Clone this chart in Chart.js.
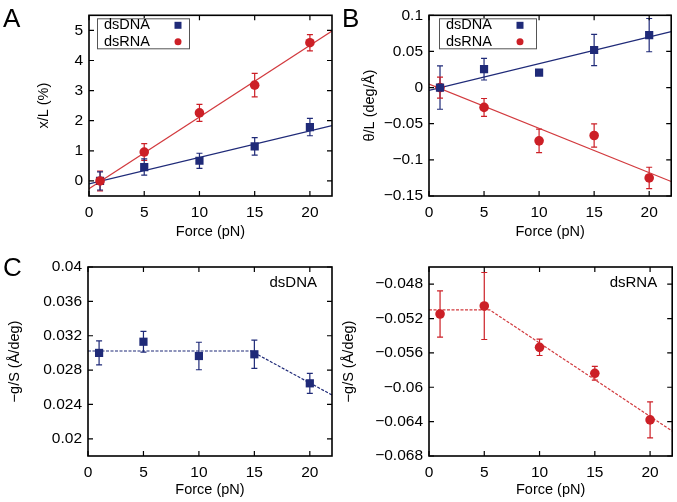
<!DOCTYPE html>
<html>
<head>
<meta charset="utf-8">
<script src="https://cdn.jsdelivr.net/npm/chart.js@4"></script>
<style>
	body { margin: 0; background: #fff; }
	#wrap { position: relative; width: 677px; height: 502px; overflow: hidden; font-family: "Liberation Sans", Arial, sans-serif; }
	canvas { position: absolute; }
	.letter { position: absolute; font-size: 26px; line-height: 26px; color: #000; }
</style>
</head>
<body>
<div id="wrap">
	<canvas id="cA" width="338" height="250" style="left:0;top:0"></canvas>
	<canvas id="cB" width="339" height="250" style="left:338px;top:0"></canvas>
	<canvas id="cC" width="338" height="252" style="left:0;top:250px"></canvas>
	<canvas id="cD" width="339" height="252" style="left:338px;top:250px"></canvas>
	<div class="letter" style="left:3px;top:5px">A</div>
	<div class="letter" style="left:342px;top:5px">B</div>
	<div class="letter" style="left:3px;top:254px">C</div>
</div>
<script>
// force values (pN) and x axis
const forceVals = [1, 5, 10, 15, 20];
const xTicks = [0, 5, 10, 15, 20];
const xTickLabels = ["0", "5", "10", "15", "20"];
const fitX = [0, 22];

// A: extension x/L (%)
const extDna = [0.0, 0.46, 0.67, 1.15, 1.79];
const extDnaErr = [0.3, 0.27, 0.25, 0.29, 0.29];
const extRna = [0.0, 0.96, 2.26, 3.18, 4.59];
const extRnaErr = [0.33, 0.28, 0.28, 0.39, 0.27];
const extDnaFit = [-0.1, 1.84];
const extRnaFit = [-0.26, 4.98];
const extTicks = [0, 1, 2, 3, 4, 5];
const extTickLabels = ["0", "1", "2", "3", "4", "5"];

// B: twist theta/L (deg/A)
const twDna = [0.0, 0.0255, 0.0206, 0.052, 0.0726];
const twDnaErr = [0.03, 0.015, 0.003, 0.0215, 0.023];
const twRna = [0.0, -0.0274, -0.0737, -0.0663, -0.125];
const twRnaErr = [0.0145, 0.0123, 0.0163, 0.016, 0.0148];
const twDnaFit = [-0.004, 0.0775];
const twRnaFit = [0.0048, -0.13];
const twTicks = [-0.15, -0.1, -0.05, 0, 0.05, 0.1];
const twTickLabels = ["\u22120.15", "\u22120.1", "\u22120.05", "0", "0.05", "0.1"];

// C: -g/S dsDNA
const gDna = [0.0300, 0.0313, 0.02964, 0.02984, 0.02646];
const gDnaErr = [0.0014, 0.0012, 0.0016, 0.00165, 0.00116];
const gDnaFitX = [0, 14.7, 22];
const gDnaFit = [0.03022, 0.03022, 0.0251];
const gDnaTicks = [0.02, 0.024, 0.028, 0.032, 0.036, 0.04];
const gDnaTickLabels = ["0.02", "0.024", "0.028", "0.032", "0.036", "0.04"];

// D: -g/S dsRNA
const gRna = [-0.05147, -0.05054, -0.05535, -0.05837, -0.0638];
const gRnaErr = [0.0027, 0.0039, 0.00095, 0.0008, 0.0021];
const gRnaFitX = [0, 5.5, 22];
const gRnaFit = [-0.0510, -0.0510, -0.0651];
const gRnaTicks = [-0.068, -0.064, -0.06, -0.056, -0.052, -0.048];
const gRnaTickLabels = ["\u22120.068", "\u22120.064", "\u22120.06", "\u22120.056", "\u22120.052", "\u22120.048"];

const navy = "#1f2a78";
const red = "#cc1f26";
const redLine = "#d23a3e";

Chart.defaults.font.family = "'Liberation Sans', Arial, sans-serif";
Chart.defaults.color = "#000";

const pts = (xs, ys) => xs.map((x, i) => ({ x: x, y: ys[i] }));

// error bars, frame with inward ticks, key box, corner tag
const gnuPlot = {
	id: "gnuPlot",
	beforeDatasetsDraw(chart) {
		const ctx = chart.ctx;
		const xs = chart.scales.x, ys = chart.scales.y;
		chart.data.datasets.forEach((ds) => {
			if (!ds.errors) return;
			ctx.save();
			ctx.strokeStyle = ds.borderColor;
			ctx.lineWidth = 1.2;
			ds.data.forEach((p, j) => {
				const x = xs.getPixelForValue(p.x);
				const y1 = ys.getPixelForValue(p.y + ds.errors[j]);
				const y2 = ys.getPixelForValue(p.y - ds.errors[j]);
				ctx.beginPath();
				ctx.moveTo(x, y1); ctx.lineTo(x, y2);
				ctx.moveTo(x - 3, y1); ctx.lineTo(x + 3, y1);
				ctx.moveTo(x - 3, y2); ctx.lineTo(x + 3, y2);
				ctx.stroke();
			});
			ctx.restore();
		});
	},
	afterDraw(chart, args, opts) {
		const ctx = chart.ctx;
		const a = chart.chartArea;
		const xs = chart.scales.x, ys = chart.scales.y;
		ctx.save();
		ctx.strokeStyle = "#000";
		ctx.lineWidth = 1.2;
		ctx.beginPath();
		xs.ticks.forEach((t) => {
			const x = xs.getPixelForValue(t.value);
			ctx.moveTo(x, a.bottom); ctx.lineTo(x, a.bottom - 5);
			ctx.moveTo(x, a.top); ctx.lineTo(x, a.top + 5);
		});
		ys.ticks.forEach((t) => {
			const y = ys.getPixelForValue(t.value);
			ctx.moveTo(a.left, y); ctx.lineTo(a.left + 5, y);
			ctx.moveTo(a.right, y); ctx.lineTo(a.right - 5, y);
		});
		ctx.stroke();
		ctx.lineWidth = 1.6;
		ctx.strokeRect(a.left, a.top, a.right - a.left, a.bottom - a.top);

		if (opts.key) {
			const k = opts.key;
			const bx = a.left + k.dx, by = a.top + k.dy;
			ctx.fillStyle = "#fff";
			ctx.fillRect(bx, by, k.w, k.h);
			ctx.strokeStyle = "#555";
			ctx.lineWidth = 1;
			ctx.strokeRect(bx + 0.5, by + 0.5, k.w, k.h);
			ctx.font = "14.5px 'Liberation Sans', Arial, sans-serif";
			ctx.textBaseline = "middle";
			ctx.textAlign = "left";
			k.order.forEach((label, row) => {
				const ds = chart.data.datasets.find((d) => d.label === label);
				const cy = by + 7 + row * 16.5;
				ctx.fillStyle = "#000";
				ctx.fillText(ds.label, bx + 7, cy);
				ctx.fillStyle = ds.backgroundColor;
				ctx.beginPath();
				if (ds.pointStyle === "rect") {
					ctx.rect(bx + k.mx - 3.5, cy - 3.5, 7, 7);
				} else {
					ctx.arc(bx + k.mx, cy, 3.5, 0, Math.PI * 2);
				}
				ctx.fill();
			});
		}
		if (opts.tag) {
			ctx.font = "15px 'Liberation Sans', Arial, sans-serif";
			ctx.fillStyle = "#000";
			ctx.textAlign = "right";
			ctx.textBaseline = "middle";
			ctx.fillText(opts.tag, a.right - 15, a.top + 16);
		}
		ctx.restore();
	},
};

function makePanel(id, p) {
	const ctx = document.getElementById(id).getContext("2d");
	return new Chart(ctx, {
		type: "scatter",
		data: { datasets: p.datasets },
		plugins: [gnuPlot],
		options: {
			responsive: false,
			animation: false,
			layout: { padding: { top: p.top, right: p.right, left: 0, bottom: 0 } },
			plugins: {
				legend: { display: false },
				tooltip: { enabled: false },
				gnuPlot: { key: p.key, tag: p.tag },
			},
			scales: {
				x: {
					type: "linear",
					min: 0,
					max: 22,
					afterBuildTicks: (axis) => { axis.ticks = xTicks.map((v) => ({ value: v })); },
					afterFit: (axis) => { axis.height = p.xHeight; },
					grid: { display: false, drawTicks: false },
					border: { display: false },
					ticks: {
						padding: 7,
						font: { size: 15.5 },
						maxRotation: 0,
						callback: (v, i) => xTickLabels[i],
					},
					title: {
						display: true,
						text: "Force (pN)",
						font: { size: 14.5 },
						padding: { top: 0, bottom: p.xTitlePad },
					},
				},
				y: {
					type: "linear",
					min: p.yMin,
					max: p.yMax,
					afterBuildTicks: (axis) => { axis.ticks = p.yTicks.map((v) => ({ value: v })); },
					afterFit: (axis) => { axis.width = p.yWidth; },
					grid: { display: false, drawTicks: false },
					border: { display: false },
					ticks: {
						padding: 6,
						font: { size: 15.5 },
						callback: (v, i) => p.yTickLabels[i],
					},
					title: {
						display: true,
						text: p.yTitle,
						font: { size: 14.5 },
						padding: { top: p.yTitlePad, bottom: 0 },
					},
				},
			},
		},
	});
}

function pointSet(label, xs, ys, errs, color, style, r) {
	return {
		label: label,
		data: pts(xs, ys),
		errors: errs,
		borderColor: color,
		backgroundColor: color,
		pointStyle: style,
		pointRadius: r,
		pointBorderColor: color,
		pointBorderWidth: 0,
		showLine: false,
	};
}

function fitSet(xs, ys, color, dash) {
	return {
		data: pts(xs, ys),
		borderColor: color,
		borderWidth: 1.2,
		borderDash: dash,
		pointRadius: 0,
		showLine: true,
		fill: false,
	};
}

makePanel("cA", {
	top: 7, right: 6, yWidth: 89, xHeight: 54,
	yMin: -0.5, yMax: 5.5, yTicks: extTicks, yTickLabels: extTickLabels,
	yTitle: "x/L (%)", yTitlePad: 35, xTitlePad: 9,
	key: { dx: 8, dy: 3, w: 92, h: 30, mx: 81, order: ["dsDNA", "dsRNA"] },
	datasets: [
		pointSet("dsRNA", forceVals, extRna, extRnaErr, red, "circle", 4.8),
		pointSet("dsDNA", forceVals, extDna, extDnaErr, navy, "rect", 5.8),
		fitSet(fitX, extRnaFit, redLine, []),
		fitSet(fitX, extDnaFit, navy, []),
	],
});

makePanel("cB", {
	top: 7, right: 3, yWidth: 91, xHeight: 54,
	yMin: -0.15, yMax: 0.1, yTicks: twTicks, yTickLabels: twTickLabels,
	yTitle: "\u03b8/L (deg/\u00c5)", yTitlePad: 23, xTitlePad: 9,
	key: { dx: 10, dy: 3, w: 97, h: 30, mx: 81, order: ["dsDNA", "dsRNA"] },
	datasets: [
		pointSet("dsDNA", forceVals, twDna, twDnaErr, navy, "rect", 5.8),
		pointSet("dsRNA", forceVals, twRna, twRnaErr, red, "circle", 4.8),
		fitSet(fitX, twDnaFit, navy, []),
		fitSet(fitX, twRnaFit, redLine, []),
	],
});

makePanel("cC", {
	top: 17, right: 6, yWidth: 88, xHeight: 46,
	yMin: 0.018, yMax: 0.04, yTicks: gDnaTicks, yTickLabels: gDnaTickLabels,
	yTitle: "\u2212g/S (\u00c5/deg)", yTitlePad: 6, xTitlePad: 3,
	tag: "dsDNA",
	datasets: [
		pointSet(null, forceVals, gDna, gDnaErr, navy, "rect", 5.8),
		fitSet(gDnaFitX, gDnaFit, navy, [3, 1.5]),
	],
});

makePanel("cD", {
	top: 17, right: 3, yWidth: 91, xHeight: 46,
	yMin: -0.068, yMax: -0.046, yTicks: gRnaTicks, yTickLabels: gRnaTickLabels,
	yTitle: "\u2212g/S (\u00c5/deg)", yTitlePad: 2, xTitlePad: 3,
	tag: "dsRNA",
	datasets: [
		pointSet(null, forceVals, gRna, gRnaErr, red, "circle", 4.8),
		fitSet(gRnaFitX, gRnaFit, redLine, [3, 1.5]),
	],
});
</script>
</body>
</html>
